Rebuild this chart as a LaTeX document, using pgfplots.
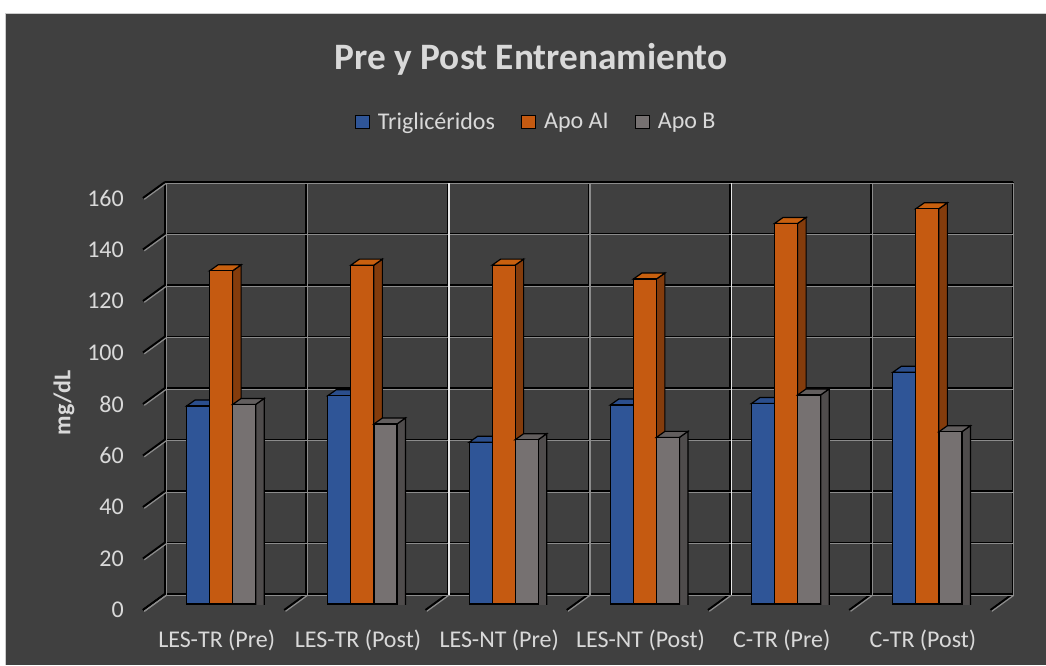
\documentclass[border=0pt]{standalone}
\usepackage{fontspec}
\setmainfont{Carlito}
\usepackage{pgfplots}
\pgfplotsset{compat=1.18}
\usepackage{pgfplotstable}

\definecolor{bg}{HTML}{404040}
\definecolor{lt}{HTML}{D9D9D9}
\definecolor{gridg}{HTML}{8C8C8C}
\definecolor{gridw}{HTML}{E6E6E6}
\definecolor{tblue}{HTML}{2F5597}
\definecolor{tbluetop}{HTML}{2B4E8C}
\definecolor{tblueside}{HTML}{1F3864}
\definecolor{torange}{HTML}{C55A11}
\definecolor{torangetop}{HTML}{C8600F}
\definecolor{torangeside}{HTML}{843C0C}
\definecolor{tgray}{HTML}{767171}
\definecolor{tgraytop}{HTML}{625E5E}
\definecolor{tgrayside}{HTML}{4F4C4C}

\newcommand\lbl{\fontsize{24}{29}\selectfont}

% 3D faces of a bar, drawn at the top centre of the bar
\pgfdeclareplotmark{barside}{%
  \pgfpathmoveto{\pgfqpoint{11.5pt}{0pt}}%
  \pgfpathlineto{\pgfqpoint{20pt}{6pt}}%
  \pgfpathlineto{\pgfqpoint{20pt}{-700pt}}%
  \pgfpathlineto{\pgfqpoint{11.5pt}{-700pt}}%
  \pgfpathclose
  \pgfusepathqfillstroke}
\pgfdeclareplotmark{bartop}{%
  \pgfpathmoveto{\pgfqpoint{-11.5pt}{0pt}}%
  \pgfpathlineto{\pgfqpoint{-3pt}{6pt}}%
  \pgfpathlineto{\pgfqpoint{20pt}{6pt}}%
  \pgfpathlineto{\pgfqpoint{11.5pt}{0pt}}%
  \pgfpathclose
  \pgfusepathqfillstroke}

\pgfplotstableread{
x trig apoa apob
0 76.9 129.4 77.5
1 80.9 131.6 69.9
2 62.8 131.6 63.8
3 77.3 126.2 64.7
4 77.9 147.8 81.2
5 90.0 153.5 66.9
}\datos

\pgfplotsset{
  wall/.style={scale only axis, width=847.5pt, height=412pt, anchor=south west,
    xmin=-0.5, xmax=5.5, ymin=0, ymax=160,
    ytick={0,20,...,160}, xticklabels={},
    grid=major, axis line style={draw=none}, major tick length=0pt, clip=false},
  face/.style={only marks, mark options={draw=black, line width=1.2pt, fill=#1}},
  front/.style={ybar, bar width=23pt, bar shift=0pt, fill=#1, draw=black, line width=1.2pt},
}

\begin{document}
\begin{tikzpicture}
\useasboundingbox (0pt,0pt) rectangle (1046pt,665pt);
\fill[white] (0pt,0pt) rectangle (1046pt,665pt);
\fill[bg] (5pt,0pt) rectangle (1046pt,652pt);
\draw[white!80!black, line width=1pt] (5.5pt,0pt) -- (5.5pt,651.5pt) -- (1046pt,651.5pt);

% back wall, dark part of the lines
\begin{axis}[wall, at={(165pt,71pt)},
    xtick={-0.5,0.5,...,5.5},
    major grid style={black, line width=2pt},
    /pgf/number format/assume math mode=true,
    yticklabel style={anchor=east, inner sep=0pt, xshift=-41pt, yshift=-16pt,
      font=\lbl, text=lt}]
\addplot[draw=none, forget plot] coordinates {(0,0)};
\pgfplotsinvokeforeach{0,20,...,160}{\draw[black, line width=2pt] (axis cs:-0.5,#1) -- ++(-22pt,-16pt);}
\pgfplotsinvokeforeach{-0.5,0.5,...,5.5}{\draw[black, line width=2pt] (axis cs:#1,0) -- ++(-22pt,-16pt);}
\end{axis}

% back wall, light part of the lines
\begin{axis}[wall, at={(166.3pt,69.7pt)},
    xtick={-0.5,0.5,2.5,4.5,5.5}, yticklabels={},
    extra x ticks={1.5,3.5}, extra x tick labels={},
    extra x tick style={grid=major, major grid style={gridw, line width=1.6pt}},
    major grid style={gridg, line width=1.2pt}]
\addplot[draw=none, forget plot] coordinates {(0,0)};
\pgfplotsinvokeforeach{0,20,...,160}{\draw[gridg, line width=1.2pt] (axis cs:-0.5,#1) -- ++(-22pt,-16pt);}
\pgfplotsinvokeforeach{-0.5,0.5,...,5.5}{\draw[gridg, line width=1.2pt] (axis cs:#1,0) -- ++(-22pt,-16pt);}
\end{axis}

% bars
\begin{axis}[scale only axis, width=847.5pt, height=412pt,
    at={(150.5pt,61pt)}, anchor=south west,
    xmin=-0.5, xmax=5.5, ymin=0, ymax=160,
    axis line style={draw=none}, major tick length=0pt,
    ytick=\empty, xtick={0,...,5},
    xticklabels={LES-TR (Pre),LES-TR (Post),LES-NT (Pre),LES-NT (Post),C-TR (Pre),C-TR (Post)},
    xticklabel style={anchor=base, yshift=-43pt, xshift=-4.4pt, font=\lbl, text=lt},
    clip marker paths=true,
    legend image code/.code={\draw[#1] (0pt,-6.5pt) rectangle (14pt,6.5pt);},
    legend style={at={(axis description cs:0.455,1.17)}, anchor=center,
      draw=none, fill=none, text=lt, font=\lbl, legend columns=3,
      /tikz/every odd column/.append style={column sep=6pt},
      /tikz/every even column/.append style={column sep=24pt}}]
\addlegendimage{fill=tblue, draw=black, line width=1.2pt}
\addlegendentry{Triglicéridos}
\addlegendimage{fill=torange, draw=black, line width=1.2pt}
\addlegendentry{Apo AI}
\addlegendimage{fill=tgray, draw=black, line width=1.2pt}
\addlegendentry{Apo B}

\addplot[face=tblueside, mark=barside, forget plot] table[x expr=\thisrow{x}-0.163, y=trig] {\datos};
\addplot[face=tbluetop, mark=bartop, forget plot] table[x expr=\thisrow{x}-0.163, y=trig] {\datos};
\addplot[front=tblue, forget plot] table[x expr=\thisrow{x}-0.163, y=trig] {\datos};

\addplot[face=torangeside, mark=barside, forget plot] table[x=x, y=apoa] {\datos};
\addplot[face=torangetop, mark=bartop, forget plot] table[x=x, y=apoa] {\datos};
\addplot[front=torange, forget plot] table[x=x, y=apoa] {\datos};

\addplot[face=tgrayside, mark=barside, forget plot] table[x expr=\thisrow{x}+0.163, y=apob] {\datos};
\addplot[face=tgraytop, mark=bartop, forget plot] table[x expr=\thisrow{x}+0.163, y=apob] {\datos};
\addplot[front=tgray, forget plot] table[x expr=\thisrow{x}+0.163, y=apob] {\datos};
\end{axis}

\node[anchor=base, text=lt, font=\fontsize{37.3}{44}\selectfont\bfseries] at (531pt,595.7pt) {Pre y Post Entrenamiento};
\node[rotate=90, text=lt, font=\lbl\bfseries] at (64pt,262pt) {mg/dL};
\end{tikzpicture}
\end{document}
